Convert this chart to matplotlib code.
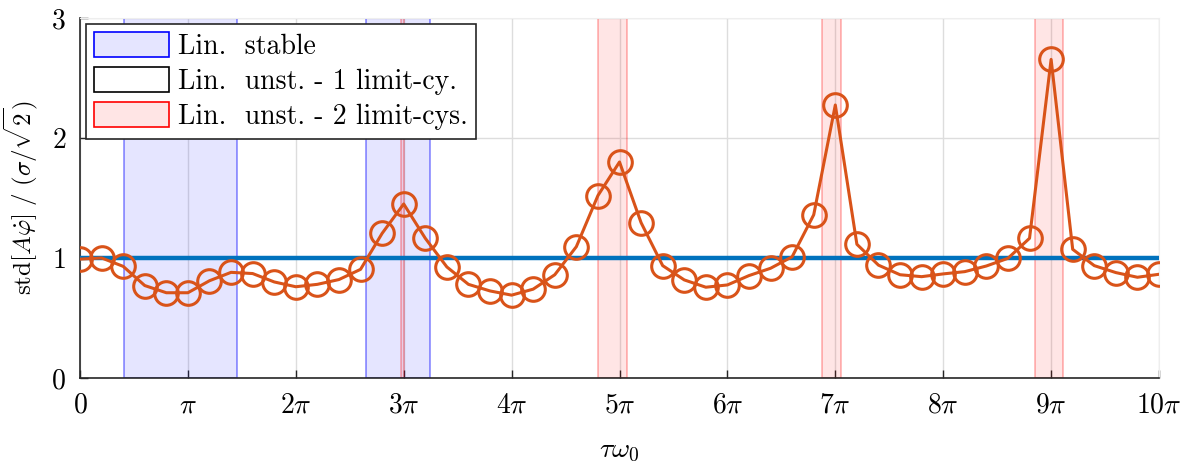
import numpy as np
import matplotlib
matplotlib.use("Agg")
import matplotlib.pyplot as plt
from matplotlib.patches import Patch

plt.rcParams['font.family'] = ['cmr10', 'DejaVu Serif']
plt.rcParams['mathtext.fontset'] = 'cm'
plt.rcParams['axes.unicode_minus'] = False

# sample points, in units of pi
tau_pi = np.arange(51) * 0.2
std_ratio = [0.99, 1.00, 0.93, 0.77, 0.71, 0.71, 0.81, 0.88, 0.87, 0.80,
             0.76, 0.78, 0.82, 0.905, 1.205, 1.45, 1.164, 0.925, 0.78, 0.725,
             0.69, 0.74, 0.86, 1.094, 1.52, 1.80, 1.294, 0.936, 0.817, 0.756,
             0.775, 0.853, 0.914, 1.01, 1.36, 2.275, 1.114, 0.94, 0.86, 0.844,
             0.867, 0.886, 0.933, 0.997, 1.164, 2.655, 1.072, 0.936, 0.878, 0.839,
             0.864]

# regions in units of pi
stable_regions = [(0.408, 1.455), (2.65, 3.244)]
two_lc_regions = [(2.975, 3.005), (4.80, 5.07), (6.88, 7.05), (8.85, 9.11)]

tick_labels = ['$0$', r'$\pi$'] + [r'$%d\pi$' % k for k in range(2, 11)]

fig = plt.figure(figsize=(11.94, 4.62), dpi=100)
ax = fig.add_axes([0.067, 0.182, 0.9037, 0.779])

for a, b in stable_regions:
    ax.axvspan(a * np.pi, b * np.pi, facecolor=(0, 0, 1, 0.1),
               edgecolor=(0, 0, 1, 0.45), linewidth=1.2, zorder=1)
for a, b in two_lc_regions:
    ax.axvspan(a * np.pi, b * np.pi, facecolor=(1, 0, 0, 0.1),
               edgecolor=(1, 0, 0, 0.3), linewidth=1.2, zorder=1)

ax.plot([0, 10 * np.pi], [1, 1], color='#0072BD', lw=3.2, zorder=3)
ax.plot(tau_pi * np.pi, std_ratio, color='#D95319', lw=2.2, marker='o',
        markersize=17, markerfacecolor='none', markeredgewidth=2.2, zorder=4)

ax.set_xlim(0, 10 * np.pi)
ax.set_ylim(0, 3)
ax.set_xticks(np.arange(11) * np.pi)
ax.set_xticklabels(tick_labels)
ax.set_yticks([0, 1, 2, 3])
ax.set_yticklabels(['$0$', '$1$', '$2$', '$3$'])
ax.tick_params(direction='in', length=6, width=1, labelsize=20, color='#262626',
               pad=10)
ax.grid(True, color='#dddddd', lw=1, zorder=0)
ax.set_axisbelow(True)
for s in ['top', 'right']:
    ax.spines[s].set_color('#eeeeee')
for s in ['left', 'bottom']:
    ax.spines[s].set_color('#262626')
    ax.spines[s].set_linewidth(1.2)

ax.set_xlabel(r'$\tau\omega_0$', fontsize=20, labelpad=14)
ax.set_ylabel(r'$\mathrm{std}[A\dot{\varphi}]\ /\ (\sigma/\sqrt{2})$', fontsize=18,
              labelpad=8)

handles = [Patch(facecolor='#e5e5ff', edgecolor='blue', lw=1.2),
           Patch(facecolor='white', edgecolor='black', lw=1.2),
           Patch(facecolor='#ffe5e5', edgecolor='red', lw=1.2)]
labels = ['Lin.  stable', 'Lin.  unst. - 1 limit-cy.', 'Lin.  unst. - 2 limit-cys.']
leg = ax.legend(handles, labels, loc='upper left', bbox_to_anchor=(0.0056, 0.983),
                fontsize=20, fancybox=False, framealpha=1, edgecolor='#262626',
                handlelength=2.7, handleheight=1.0, borderpad=0.3,
                labelspacing=0.25, handletextpad=0.3, borderaxespad=0)
leg.get_frame().set_linewidth(1.2)
leg.set_zorder(6)

fig.savefig('out.png', dpi=100)
